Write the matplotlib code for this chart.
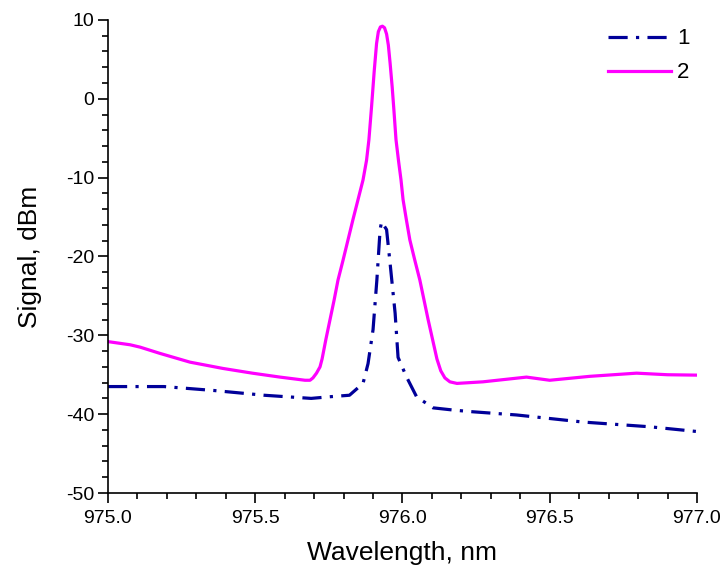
import matplotlib.pyplot as plt
from matplotlib.ticker import MultipleLocator

plt.rcParams['font.family'] = ['Liberation Sans', 'DejaVu Sans']
plt.rcParams['axes.unicode_minus'] = False

# curve 1 (dash-dot, navy)
wl1 = [975.0, 975.19, 975.36, 975.53, 975.69, 975.75, 975.82, 975.866, 975.883,
       975.90, 975.913, 975.924, 975.929, 975.946, 975.958, 975.975, 975.985,
       976.014, 976.048, 976.104, 976.178, 976.24, 976.387, 976.613, 976.84, 977.0]
sig1 = [-36.5, -36.5, -37.0, -37.6, -38.0, -37.8, -37.6, -36.1, -33.6,
        -29.3, -23.0, -16.6, -15.6, -16.6, -20.9, -27.2, -32.8,
        -35.3, -37.8, -39.2, -39.5, -39.7, -40.1, -41.0, -41.6, -42.2]

# curve 2 (solid, magenta)
wl2 = [975.0, 975.075, 975.109, 975.177, 975.278, 975.39, 975.49, 975.584, 975.669,
       975.686, 975.696, 975.708, 975.72, 975.727, 975.74, 975.754, 975.768, 975.781,
       975.798, 975.815, 975.832, 975.849, 975.866, 975.878, 975.886, 975.895,
       975.904, 975.912, 975.918, 975.925, 975.932, 975.939, 975.946, 975.952,
       975.958, 975.965, 975.971, 975.978, 975.987, 975.995, 976.002, 976.013,
       976.025, 976.042, 976.059, 976.073, 976.087, 976.102, 976.117, 976.13,
       976.144, 976.161, 976.185, 976.273, 976.421, 976.5, 976.637, 976.795,
       976.9, 977.0]
sig2 = [-30.8, -31.2, -31.5, -32.3, -33.4, -34.2, -34.8, -35.3, -35.7,
        -35.7, -35.4, -34.8, -34.0, -33.0, -30.5, -28.0, -25.5, -23.0,
        -20.5, -17.9, -15.3, -12.8, -10.3, -7.8, -5.2, -1.0,
        3.5, 7.0, 8.5, 9.1, 9.2, 9.0, 8.2, 6.8,
        4.5, 1.5, -1.5, -5.2, -8.0, -10.3, -12.8, -15.3,
        -17.9, -20.5, -23.0, -25.5, -28.0, -30.5, -33.0, -34.5,
        -35.4, -35.9, -36.1, -35.9, -35.3, -35.7, -35.2, -34.8,
        -35.0, -35.05]

fig = plt.figure(figsize=(7.2, 5.68), dpi=100)
ax = fig.add_axes([0.15, 0.132, 0.818, 0.833])

ax.plot(wl1, sig1, color='#000099', lw=2.3, linestyle=(0, (6, 2.6, 1, 2.6)),
        label='1')
ax.plot(wl2, sig2, color='#ff00ff', lw=2.3, label='2')

ax.set_xlim(975.0, 977.0)
ax.set_ylim(-50, 10)
ax.xaxis.set_major_locator(MultipleLocator(0.5))
ax.xaxis.set_minor_locator(MultipleLocator(0.1))
ax.yaxis.set_major_locator(MultipleLocator(10))
ax.yaxis.set_minor_locator(MultipleLocator(2))
ax.xaxis.set_major_formatter(lambda v, p: f"{v:.1f}")

for s in ['top', 'right']:
    ax.spines[s].set_visible(False)
for s in ['left', 'bottom']:
    ax.spines[s].set_linewidth(1.2)

ax.tick_params(which='major', direction='out', length=7.5, width=1.2,
               labelsize=14, pad=2.5)
ax.tick_params(which='minor', direction='out', length=4.5, width=1.2)
ax.tick_params(axis='x', which='major', pad=5)

ax.set_xlabel('Wavelength, nm', fontsize=19, labelpad=10)
ax.set_ylabel('Signal, dBm', fontsize=19, labelpad=17)

ax.legend(loc='upper left', bbox_to_anchor=(0.845, 0.95),
          bbox_transform=fig.transFigure, frameon=False, fontsize=16,
          handlelength=2.8, handletextpad=0.3, labelspacing=0.58,
          borderpad=0, borderaxespad=0)

fig.savefig('out.png', dpi=100)
